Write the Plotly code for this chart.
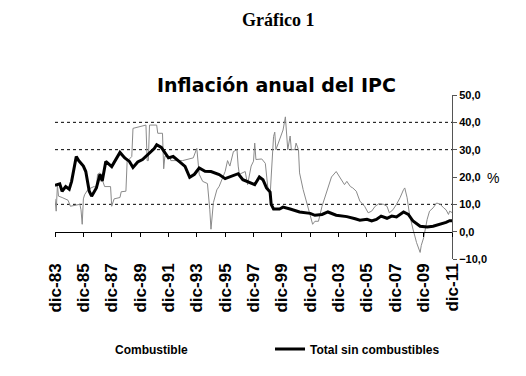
import plotly.graph_objects as go

# ---------------- data ----------------
tot_dates = ["1983-12","1984-04","1984-06","1984-09","1984-12","1985-02","1985-06","1985-08","1985-12",
             "1986-02","1986-05","1986-07","1986-11","1987-02","1987-04","1987-07","1987-12","1988-07",
             "1988-11","1989-03","1989-06","1989-10","1990-02","1990-08","1990-12","1991-02","1991-06",
             "1991-12","1992-04","1992-09","1993-02","1993-06","1993-10","1994-02","1994-07","1994-12",
             "1995-07","1995-12","1996-05","1996-11","1997-03","1997-09","1998-01","1998-05","1998-08",
             "1998-11","1999-02","1999-03","1999-05","1999-10","2000-01","2000-07","2001-03","2001-12",
             "2002-04","2002-10","2003-03","2003-10","2004-07","2005-02","2005-06","2005-12","2006-04",
             "2006-08","2006-12","2007-05","2007-09","2008-01","2008-07","2008-11","2009-03","2009-09",
             "2010-03","2010-08","2011-02","2011-07","2011-10","2011-12"]
tot_vals = [17,17.5,14.8,16.5,15.5,18.4,27.5,26,24,
            22,14.8,13,16,21,18.5,25.7,23.8,29,
            27,25.7,23.5,25.5,26.4,28.7,30.4,31.8,30.8,
            27,27.5,25.7,23.9,19.9,21,23.3,22.1,22,
            20.9,19.4,20.3,21.2,19,17.8,17.2,20,19,
            16,14.5,10,8.3,8.3,9,8.3,7.2,6.7,
            6,6.3,7.2,6,5.5,4.7,4.2,4.5,3.9,
            4.5,5.7,4.9,5.7,5.4,7.2,6.3,3.9,2,
            1.7,2,2.7,3.4,4,4]

comb_dates = ["1983-12","1984-01","1984-02","1984-03","1984-06","1984-11","1985-01","1985-09","1985-10",
              "1985-11","1985-12","1986-01","1986-04","1986-09","1986-11","1986-12","1987-02","1987-04",
              "1987-06","1987-11","1987-12","1988-02","1988-07","1988-08","1988-12","1989-01","1989-05",
              "1989-06","1989-12","1990-05","1990-06","1990-07","1990-08","1991-02","1991-03","1991-07",
              "1991-08","1991-09","1992-01","1992-02","1992-12","1993-09","1993-12","1994-01","1994-02",
              "1994-05","1994-09","1994-11","1994-12","1995-02","1995-05","1995-07","1995-12","1996-02",
              "1996-04","1996-07","1996-10","1996-11","1996-12","1997-05","1997-07","1997-10","1997-12",
              "1998-01","1998-02","1998-07","1998-10","1998-12","1999-02","1999-03","1999-05","1999-06",
              "1999-07","1999-09","1999-12","2000-01","2000-03","2000-04","2000-05","2000-07","2000-08",
              "2000-11","2000-12","2001-02","2001-03","2001-06","2001-10","2002-02","2002-04","2002-07",
              "2002-10","2003-02","2003-06","2003-10","2004-01","2004-05","2004-07","2004-10","2004-12",
              "2005-03","2005-06","2005-10","2006-01","2006-04","2006-07","2006-10","2007-02","2007-05",
              "2007-07","2007-10","2008-01","2008-04","2008-07","2008-08","2008-10","2008-12","2009-03",
              "2009-06","2009-09","2009-10","2009-12","2010-03","2010-05","2010-08","2010-11","2011-02",
              "2011-05","2011-07","2011-09","2011-10","2011-12"]
comb_vals = [12,7.5,17,13,12.5,11.5,9.3,10,8,
             2.7,12,13.5,15.5,16.5,16,21,21.5,18.7,
             16.5,16.5,9.3,12,12.5,14.6,14.8,25.7,27.5,
             37.8,38.5,39,26,26,39,39,36,36,
             23,27.6,27.6,26,26,27,30.5,25,21,
             18.4,17.6,8,0.9,10.6,15.3,16.6,22,26,
             24,29.3,30,24,21,22,17.2,24,25.8,
             32.4,26.4,26.6,25,16.6,13,20,34.8,36.4,
             30,32.4,36,37.2,42,37,30,35,30,
             30,32.4,30,21.5,15.4,9.5,2.7,3.8,3.8,
             9.3,14.8,20,22,20,17.2,18.4,16.5,16,
             14.8,11.2,9.3,6.9,7.5,9.3,10.2,10,9.3,
             6.9,8,10,12.4,15.4,16,12.4,6.3,0.9,
             -4,-7.6,-5,-2.2,4.5,7.5,8.7,10.5,10,
             8.7,8,6.3,7.5,7]

tick_dates = ["1983-12-01","1985-12-01","1987-12-01","1989-12-01","1991-12-01","1993-12-01","1995-12-01",
              "1997-12-01","1999-12-01","2001-12-01","2003-12-01","2005-12-01","2007-12-01","2009-12-01",
              "2011-12-01"]
tick_labels = ["dic-83","dic-85","dic-87","dic-89","dic-91","dic-93","dic-95","dic-97","dic-99",
               "dic-01","dic-03","dic-05","dic-07","dic-09","dic-11"]
y_range = [-10, 50]
grid_levels = [10, 30, 40]

name_comb = "Combustible"
name_tot = "Total sin combustibles"

# ---------------- figure ----------------
fig = go.Figure()
fig.add_trace(go.Scatter(x=comb_dates, y=comb_vals, mode="lines", name=name_comb,
                         line=dict(color="#8a8a8a", width=1), showlegend=False,
                         xaxis="x", yaxis="y"))
# legend entry for Combustible (no visible symbol in reference)
fig.add_trace(go.Scatter(x=[None], y=[None], mode="lines", name=name_comb,
                         line=dict(color="rgba(0,0,0,0)", width=0), xaxis="x", yaxis="y",
                         legend="legend"))
fig.add_trace(go.Scatter(x=tot_dates, y=tot_vals, mode="lines", name=name_tot,
                         line=dict(color="black", width=3), xaxis="x2", yaxis="y",
                         legend="legend2"))

x_range = [tick_dates[0], tick_dates[-1]]
zero_pos = (0 - y_range[0]) / (y_range[1] - y_range[0])

bold_sans = "Liberation Sans, Arial, sans-serif"
legend_font = dict(family=bold_sans, size=12, color="black", weight="bold")

shapes = [dict(type="line", xref="paper", x0=0, x1=1, yref="y", y0=g, y1=g,
               line=dict(color="black", width=1, dash="dot"), layer="below")
          for g in grid_levels]

# page body has an 8px default margin, so the figure is 8px smaller than the window
fig.update_layout(
    width=518, height=368, autosize=False,
    margin=dict(l=47, r=74, t=87, b=117),
    paper_bgcolor="white", plot_bgcolor="white",
    separators=",.",
    showlegend=True,
    xaxis=dict(type="date", range=x_range, anchor="y", side="bottom",
               tickmode="array", tickvals=tick_dates, ticktext=tick_labels,
               tickangle=-90, ticks="", showline=False, showgrid=False, zeroline=False,
               tickfont=dict(family=bold_sans, size=17, color="black", weight="bold")),
    xaxis2=dict(type="date", range=x_range, overlaying="x", anchor="free", position=zero_pos,
                tickmode="array", tickvals=tick_dates, showticklabels=False,
                ticks="outside", ticklen=4, tickcolor="black", showline=True,
                linecolor="black", linewidth=1, showgrid=False, zeroline=False),
    yaxis=dict(range=y_range, side="right", dtick=10, tick0=0, tickformat=".1f",
               showline=True, linecolor="#555555", linewidth=1, ticks="outside", ticklen=4,
               tickcolor="#555555", showgrid=False, zeroline=False,
               tickfont=dict(family=bold_sans, size=11, color="black", weight="bold")),
    shapes=shapes,
    legend=dict(orientation="h", x=0.0504, xanchor="left", y=-0.549, yanchor="middle",
                font=legend_font, bgcolor="rgba(0,0,0,0)"),
    legend2=dict(orientation="h", x=0.5416, xanchor="left", y=-0.549, yanchor="middle",
                 font=legend_font, bgcolor="rgba(0,0,0,0)"),
    annotations=[
        dict(text="Gráfico 1", xref="paper", yref="paper", x=0.5605, y=1.455,
             xanchor="center", yanchor="middle", showarrow=False,
             font=dict(family="Liberation Serif, Times New Roman, serif", size=18,
                       color="black", weight="bold")),
        dict(text="Inflación anual del IPC", xref="paper", yref="paper", x=0.5567, y=1.064,
             xanchor="center", yanchor="middle", showarrow=False,
             font=dict(family="DejaVu Sans, sans-serif", size=19, color="black", weight="bold")),
        dict(text="%", xref="paper", yref="y", x=1.103, y=19.5, xanchor="center",
             yanchor="middle", showarrow=False,
             font=dict(family="Liberation Sans, Arial, sans-serif", size=14, color="black")),
    ],
)

fig.write_html("out.html")
